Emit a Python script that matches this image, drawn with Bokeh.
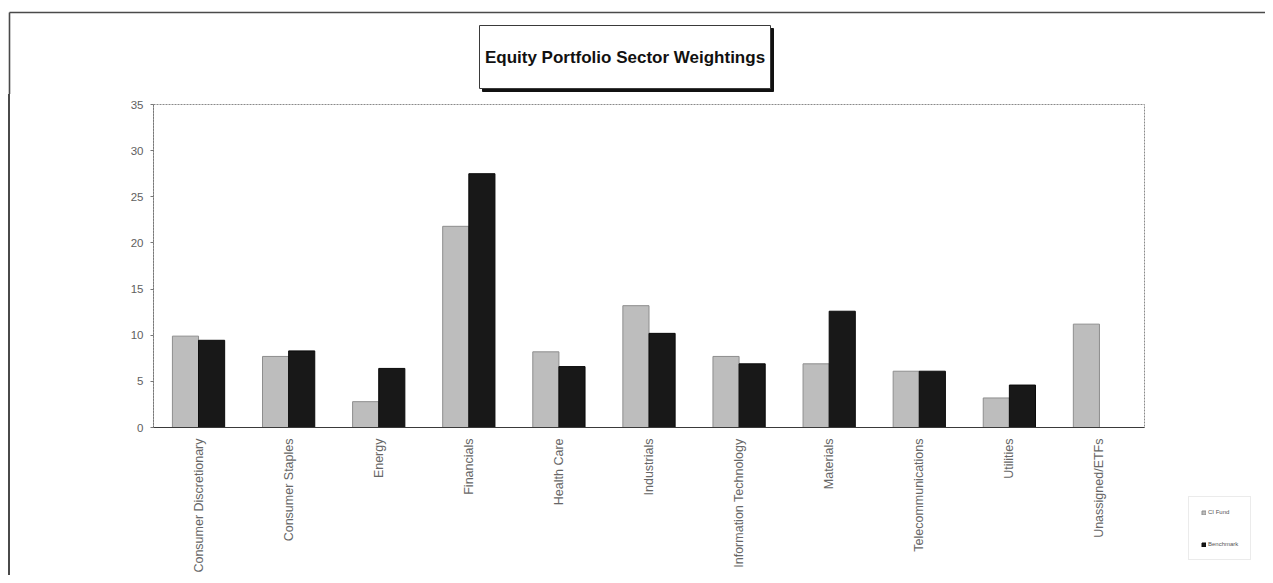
import math
from bokeh.plotting import figure
from bokeh.layouts import column, row
from bokeh.models import (ColumnDataSource, FactorRange, Range1d, Legend, LegendItem,
                          FixedTicker)
from bokeh.transform import dodge
from bokeh.embed import file_html
from bokeh.resources import INLINE
from bokeh.core.properties import value

sectors = ["Consumer Discretionary", "Consumer Staples", "Energy", "Financials",
           "Health Care", "Industrials", "Information Technology", "Materials",
           "Telecommunications", "Utilities", "Unassigned/ETFs"]
fund = [9.9, 7.7, 2.8, 21.8, 8.2, 13.2, 7.7, 6.9, 6.1, 3.2, 11.2]
benchmark = [9.45, 8.3, 6.4, 27.5, 6.6, 10.2, 6.9, 12.6, 6.1, 4.6, 0.0]
series_names = ["CI Fund", "Benchmark"]
y_ticks = [0, 5, 10, 15, 20, 25, 30, 35]
title_text = "Equity Portfolio Sector Weightings"

font = "Liberation Sans"
FUND_FILL, FUND_LINE = "#bdbdbd", "#8e8e8e"
BM_FILL, BM_LINE = "#181818", "#0a0a0a"
FRAME_COLOR = "#4a4a4a"

TOTAL_W, TOP_H, MAIN_H = 1265, 94, 481
LEFT_OFF = 10  # page-frame line + margin in front of the main chart

# ---------- top strip: page frame + title box ----------
top = figure(width=TOTAL_W, height=TOP_H, x_range=Range1d(0, TOTAL_W),
             y_range=Range1d(TOP_H, 0), output_backend="svg", toolbar_location=None,
             tools="", min_border=0, min_border_left=0, min_border_right=0,
             min_border_top=0, min_border_bottom=0)
top.axis.visible = False
top.grid.visible = False
top.outline_line_color = None
top.segment(x0=[9, 9], y0=[12, 12], x1=[TOTAL_W, 9], y1=[12, TOP_H],
            line_color=FRAME_COLOR, line_width=1.6)
top.quad(left=[482], right=[773], top=[28], bottom=[91],
         fill_color="#111111", line_color="#111111")
top.quad(left=[479], right=[770], top=[25], bottom=[88],
         fill_color="white", line_color="#3a3a3a", line_width=1)
top.text(x=[624.5], y=[57], text=[title_text], text_font=value(font),
         text_font_size="17px", text_font_style="bold", text_color="#111111",
         text_align="center", text_baseline="middle")

# ---------- main chart ----------
src = ColumnDataSource(dict(sector=sectors, fund=fund, benchmark=benchmark))
p = figure(x_range=FactorRange(*sectors), y_range=(0, 35),
           width=TOTAL_W - LEFT_OFF, height=MAIN_H,
           output_backend="svg", toolbar_location=None, tools="",
           min_border_left=153 - LEFT_OFF, min_border_top=10,
           min_border_right=TOTAL_W - LEFT_OFF - (153 - LEFT_OFF) - 989,
           min_border_bottom=148)
p.frame_width = 989
p.frame_height = 323
p.styles = {"margin-left": "8px", "border-left": "2px solid " + FRAME_COLOR}
p.background_fill_color = "white"
p.border_fill_color = "white"
p.outline_line_color = "#8a8a8a"
p.outline_line_dash = "2 1"
p.xgrid.visible = False
p.ygrid.visible = False

r1 = p.vbar(x=dodge("sector", -0.145, range=p.x_range), top="fund", width=0.29,
            source=src, fill_color=FUND_FILL, line_color=FUND_LINE, line_width=1)
r2 = p.vbar(x=dodge("sector", 0.145, range=p.x_range), top="benchmark", width=0.29,
            source=src, fill_color=BM_FILL, line_color=BM_LINE, line_width=1)

p.yaxis.ticker = FixedTicker(ticks=y_ticks)
p.yaxis.major_label_text_font = font
p.yaxis.major_label_text_font_size = "11.5px"
p.yaxis.major_label_text_color = "#606060"
p.yaxis.axis_line_color = "#777777"
p.yaxis.axis_line_dash = "2 1"
p.yaxis.major_tick_line_color = "#777777"
p.yaxis.major_tick_in = 0
p.yaxis.major_tick_out = 3
p.yaxis.minor_tick_line_color = None
p.yaxis.major_label_standoff = 7

p.xaxis.major_label_orientation = math.pi / 2
p.xaxis.major_label_text_font = font
p.xaxis.major_label_text_font_size = "12.5px"
p.xaxis.major_label_text_color = "#666666"
p.xaxis.axis_line_color = "#3a3a3a"
p.xaxis.axis_line_width = 1
p.xaxis.major_tick_line_color = None
p.xaxis.major_label_standoff = 5

legend = Legend(items=[LegendItem(label=series_names[0], renderers=[r1]),
                       LegendItem(label=series_names[1], renderers=[r2])],
                location=(44, -133), orientation="vertical",
                label_text_font=font, label_text_font_size="6px",
                label_text_color="#555555", glyph_width=5, glyph_height=5,
                label_height=6, label_standoff=2, spacing=26, padding=12,
                margin=0, border_line_color="#d8d8d8", background_fill_alpha=0)
p.add_layout(legend, "right")

layout = column(top, row(p, spacing=0), spacing=0)
open("out.html", "w").write(file_html(layout, INLINE))
